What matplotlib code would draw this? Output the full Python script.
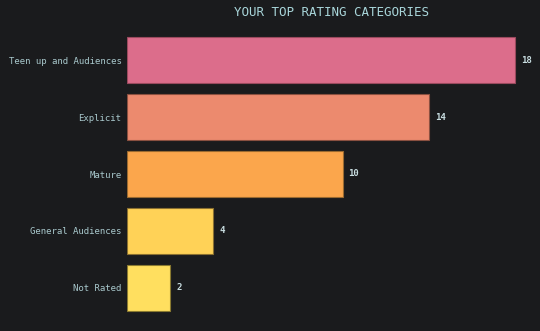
import matplotlib
matplotlib.use('Agg')
from matplotlib import pyplot as plt

categories = ['Teen up and Audiences', 'Explicit', 'Mature', 'General Audiences', 'Not Rated']
counts = [18, 14, 10, 4, 2]
colors = ['#dc6d8b', '#ec8a6e', '#fba64c', '#ffd257', '#ffdf5f']
edges = ['#9a4a5e', '#8a5040', '#9a6a30', '#8a7030', '#8a7a30']

bg = '#1a1b1d'
label_color = '#a9c9cd'

fig = plt.figure(figsize=(5.4, 3.31), dpi=100, facecolor=bg)
ax = fig.add_axes([127 / 540, 9 / 331, 408 / 540, 296 / 331])
ax.set_facecolor(bg)

pos = list(range(len(categories)))
bars = ax.barh(pos, counts, height=0.82, color=colors, edgecolor=edges, linewidth=0.8)

for b, v in zip(bars, counts):
    ax.text(b.get_width() + 0.28, b.get_y() + b.get_height() / 2, str(v),
            va='center', ha='left', fontsize=6.5, fontweight='bold',
            family='DejaVu Sans Mono', color='#c8dde0')

ax.set_yticks(pos)
ax.set_yticklabels(categories, family='DejaVu Sans Mono', fontsize=6.5, color=label_color)
ax.set_ylim(4.6, -0.6)
ax.set_xlim(0, 18.93)
ax.set_xticks([])
ax.tick_params(axis='y', length=0, pad=4)
for s in ax.spines.values():
    s.set_visible(False)

fig.text(331 / 540, 1 - 12 / 331, 'YOUR TOP RATING CATEGORIES', ha='center', va='center',
         family='DejaVu Sans Mono', fontsize=9, color='#a9d6da')

fig.savefig('out.png', dpi=100, facecolor=bg)
